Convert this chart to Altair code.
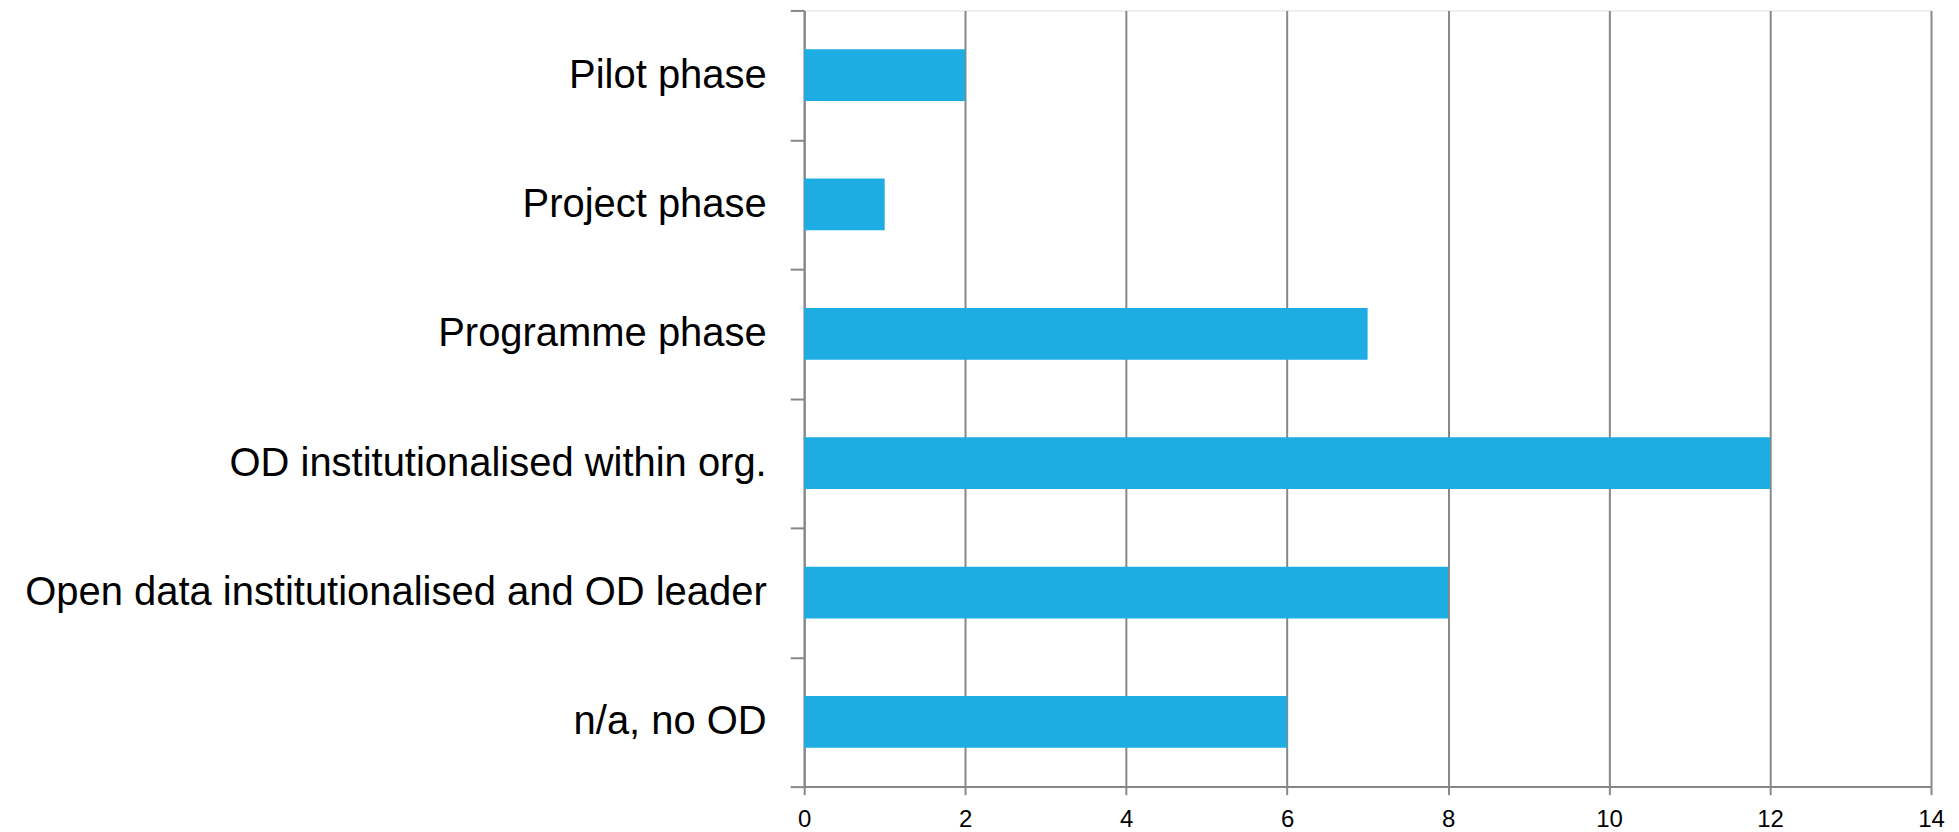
import altair as alt
import pandas as pd

categories = [
    "Pilot phase",
    "Project phase",
    "Programme phase",
    "OD institutionalised within org.",
    "Open data institutionalised and OD leader",
    "n/a, no OD",
]
values = [2, 1, 7, 12, 8, 6]
x_ticks = [0, 2, 4, 6, 8, 10, 12, 14]

df = pd.DataFrame({"category": categories, "value": values})

GRAY = "#878787"
FONT = "Liberation Sans"

bars = alt.Chart(df).mark_bar(color="#1EADE3", height={"band": 0.4}).encode(
    y=alt.Y(
        "category:N",
        sort=categories,
        scale=alt.Scale(paddingInner=0, paddingOuter=0),
        axis=alt.Axis(
            title=None,
            tickBand="extent",
            ticks=True,
            tickSize=14,
            tickWidth=2,
            tickColor=GRAY,
            domainColor=GRAY,
            domainWidth=2,
            labelFontSize=40,
            labelFont=FONT,
            labelColor="#000000",
            labelPadding=24,
            labelLimit=1000,
            grid=False,
        ),
    ),
    x=alt.X(
        "value:Q",
        scale=alt.Scale(domain=[0, 14], nice=False),
        axis=alt.Axis(
            title=None,
            values=x_ticks,
            tickSize=8,
            tickWidth=2,
            tickColor=GRAY,
            domainColor=GRAY,
            domainWidth=2,
            grid=True,
            gridColor=GRAY,
            gridWidth=2,
            gridOpacity=1,
            labelFontSize=24,
            labelFont=FONT,
            labelColor="#000000",
            labelPadding=13,
            labelFlush=False,
        ),
    ),
)

chart = bars.properties(
    width=1128,
    height=777,
    autosize=alt.AutoSizeParams(type="none"),
    padding={"top": 2, "left": 797, "right": 20, "bottom": 45},
).configure_view(stroke=None).configure(background="white")

chart.save("out.html", embed_options={"renderer": "svg", "actions": False})
